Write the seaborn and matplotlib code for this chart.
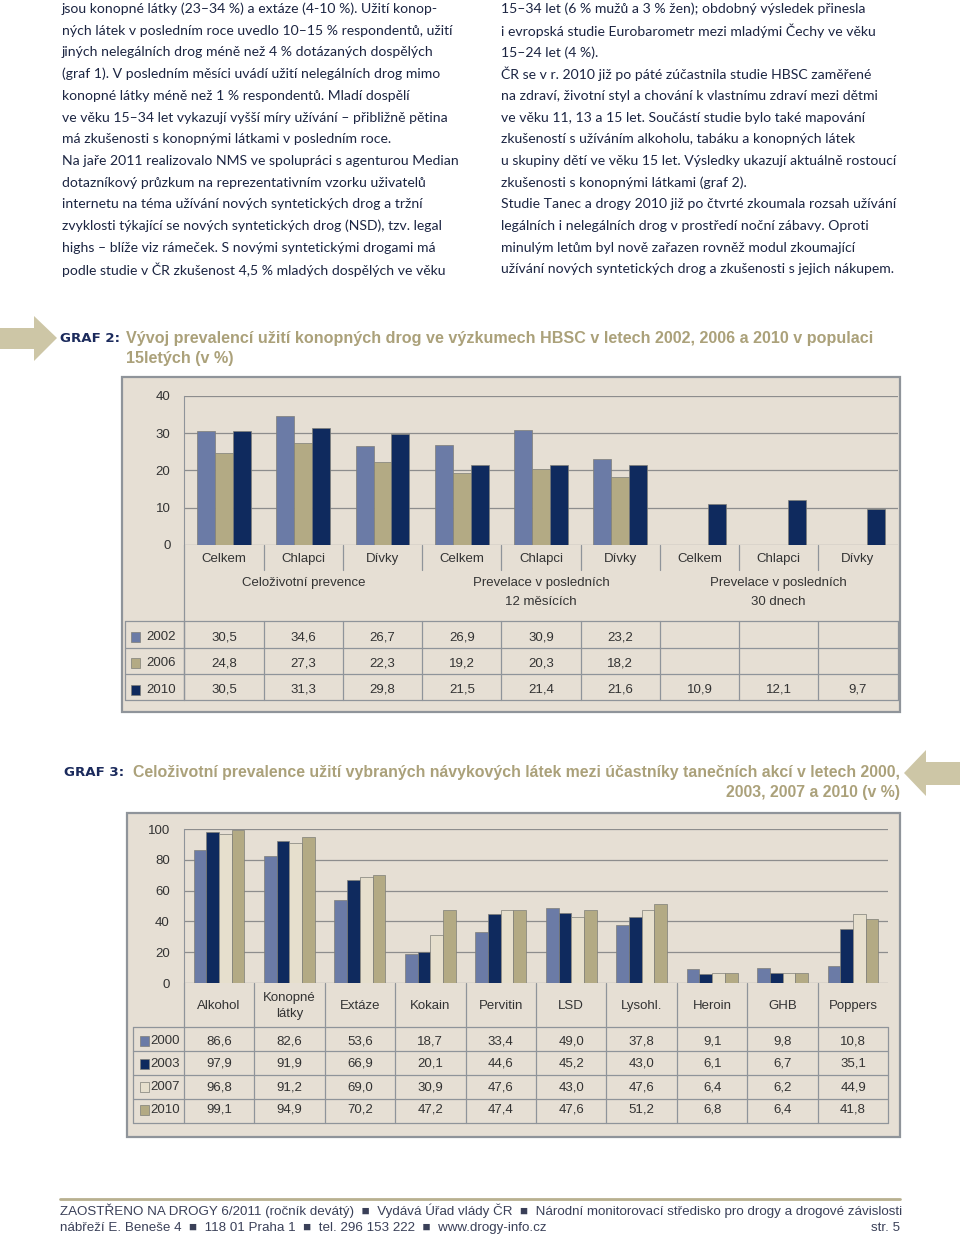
import matplotlib
matplotlib.use("Agg")
import matplotlib.pyplot as plt
import matplotlib.transforms as mtransforms
from matplotlib.patches import Rectangle, Polygon
from matplotlib.lines import Line2D
import pandas as pd
import seaborn as sns

W, H = 960, 1239

# --- GRAF 2 data (HBSC, 15letí) ---
g2_cats = ["Celkem", "Chlapci", "Dívky", "Celkem", "Chlapci", "Dívky", "Celkem", "Chlapci", "Dívky"]
g2_groups = ["Celoživotní prevence", "Prevelace v posledních\n12 měsících", "Prevelace v posledních\n30 dnech"]
g2_years = ["2002", "2006", "2010"]
g2_2002 = [30.5, 34.6, 26.7, 26.9, 30.9, 23.2, None, None, None]
g2_2006 = [24.8, 27.3, 22.3, 19.2, 20.3, 18.2, None, None, None]
g2_2010 = [30.5, 31.3, 29.8, 21.5, 21.4, 21.6, 10.9, 12.1, 9.7]
g2_colors = ["#6b7ba6", "#b3aa84", "#0f2a5e"]

# --- GRAF 3 data (Tanec a drogy) ---
g3_cats = ["Alkohol", "Konopné\nlátky", "Extáze", "Kokain", "Pervitin", "LSD", "Lysohl.", "Heroin", "GHB", "Poppers"]
g3_years = ["2000", "2003", "2007", "2010"]
g3_2000 = [86.6, 82.6, 53.6, 18.7, 33.4, 49.0, 37.8, 9.1, 9.8, 10.8]
g3_2003 = [97.9, 91.9, 66.9, 20.1, 44.6, 45.2, 43.0, 6.1, 6.7, 35.1]
g3_2007 = [96.8, 91.2, 69.0, 30.9, 47.6, 43.0, 47.6, 6.4, 6.2, 44.9]
g3_2010 = [99.1, 94.9, 70.2, 47.2, 47.4, 47.6, 51.2, 6.8, 6.4, 41.8]
g3_colors = ["#6b7ba6", "#0f2a5e", "#e6dfcd", "#b3aa84"]

left_lines = [
    "jsou konopné látky (23–34 %) a extáze (4-10 %). Užití konop-",
    "ných látek v posledním roce uvedlo 10–15 % respondentů, užití",
    "jiných nelegálních drog méně než 4 % dotázaných dospělých",
    "(graf 1). V posledním měsíci uvádí užití nelegálních drog mimo",
    "konopné látky méně než 1 % respondentů. Mladí dospělí",
    "ve věku 15–34 let vykazují vyšší míry užívání – přibližně pětina",
    "má zkušenosti s konopnými látkami v posledním roce.",
    "Na jaře 2011 realizovalo NMS ve spolupráci s agenturou Median",
    "dotazníkový průzkum na reprezentativním vzorku uživatelů",
    "internetu na téma užívání nových syntetických drog a tržní",
    "zvyklosti týkající se nových syntetických drog (NSD), tzv. legal",
    "highs – blíže viz rámeček. S novými syntetickými drogami má",
    "podle studie v ČR zkušenost 4,5 % mladých dospělých ve věku",
]
right_lines = [
    "15–34 let (6 % mužů a 3 % žen); obdobný výsledek přinesla",
    "i evropská studie Eurobarometr mezi mladými Čechy ve věku",
    "15–24 let (4 %).",
    "ČR se v r. 2010 již po páté zúčastnila studie HBSC zaměřené",
    "na zdraví, životní styl a chování k vlastnímu zdraví mezi dětmi",
    "ve věku 11, 13 a 15 let. Součástí studie bylo také mapování",
    "zkušeností s užíváním alkoholu, tabáku a konopných látek",
    "u skupiny dětí ve věku 15 let. Výsledky ukazují aktuálně rostoucí",
    "zkušenosti s konopnými látkami (graf 2).",
    "Studie Tanec a drogy 2010 již po čtvrté zkoumala rozsah užívání",
    "legálních i nelegálních drog v prostředí noční zábavy. Oproti",
    "minulým letům byl nově zařazen rovněž modul zkoumající",
    "užívání nových syntetických drog a zkušenosti s jejich nákupem.",
]

sns.set_style("white")
plt.rcParams["font.family"] = ["Liberation Sans", "DejaVu Sans"]

TXT = "#1c2542"
KHAKI = "#aba17a"
NAVY = "#1b2a5c"
PANEL = "#e6dfd4"
GRID = "#8d8d8d"
LINE = "#8f949a"

fig = plt.figure(figsize=(W / 100, H / 100), dpi=100)
fig.patch.set_facecolor("white")


def fx(x):
    return x / W


def fy(y):
    return 1 - y / H


def hline(x0, x1, y, color=LINE, lw=0.9):
    fig.add_artist(Line2D([fx(x0), fx(x1)], [fy(y), fy(y)], color=color, lw=lw))


def vline(x, y0, y1, color=LINE, lw=0.9):
    fig.add_artist(Line2D([fx(x), fx(x)], [fy(y0), fy(y1)], color=color, lw=lw))


def fmt(v):
    return f"{v:.1f}".replace(".", ",")


# body text
for i, t in enumerate(left_lines):
    fig.text(fx(62), fy(9 + i * 21.7), t, fontsize=10.1, family="Lato", color=TXT, va="center")
for i, t in enumerate(right_lines):
    fig.text(fx(501), fy(9 + i * 21.7), t, fontsize=10.1, family="Lato", color=TXT, va="center")

# arrows
fig.add_artist(Polygon([(fx(0), fy(328)), (fx(34), fy(328)), (fx(34), fy(316)), (fx(57), fy(338)),
                        (fx(34), fy(361)), (fx(34), fy(349)), (fx(0), fy(349))],
                       closed=True, facecolor="#cdc6a6", edgecolor="none"))
fig.add_artist(Polygon([(fx(904), fy(773)), (fx(926), fy(750)), (fx(926), fy(762)), (fx(960), fy(762)),
                        (fx(960), fy(785)), (fx(926), fy(785)), (fx(926), fy(796))],
                       closed=True, facecolor="#cdc6a6", edgecolor="none"))

TITLE = dict(family="Liberation Sans", weight="bold", color=KHAKI, va="center")
LABEL = dict(fontsize=9.6, family="DejaVu Sans", weight="heavy", color=NAVY, va="center")

# ================= GRAF 2 =================
fig.text(fx(60), fy(338), "GRAF 2:", **LABEL)
fig.text(fx(126), fy(338), "Vývoj prevalencí užití konopných drog ve výzkumech HBSC v letech 2002, 2006 a 2010 v populaci",
         fontsize=11.6, **TITLE)
fig.text(fx(126), fy(359), "15letých (v %)", fontsize=11.6, **TITLE)

fig.add_artist(Rectangle((fx(122), fy(712)), fx(900 - 122), (712 - 377) / H,
                         facecolor=PANEL, edgecolor=LINE, lw=1.6, zorder=0))

g2_slots = [f"{k}" for k in range(len(g2_cats))]
rows = []
for year, vals in zip(g2_years, [g2_2002, g2_2006, g2_2010]):
    for s, v in zip(g2_slots, vals):
        if v is not None:
            rows.append({"slot": s, "rok": year, "hodnota": v})
df2 = pd.DataFrame(rows)

L2, R2, T2, B2 = 184.4, 897.6, 396, 545
ax2 = fig.add_axes([fx(L2), fy(B2), fx(R2 - L2), (B2 - T2) / H])
ax2.set_facecolor("none")
sns.barplot(data=df2, x="slot", y="hodnota", hue="rok", order=g2_slots, hue_order=g2_years,
            palette=g2_colors, saturation=1, width=0.68, errorbar=None, legend=False,
            edgecolor="#7e7e78", linewidth=0.5, ax=ax2, zorder=3)
ax2.set_xlim(-0.5, len(g2_cats) - 0.5)
ax2.set_ylim(0, 40)
ax2.set_yticks([0, 10, 20, 30, 40])
ax2.yaxis.grid(True, color=GRID, lw=0.9)
ax2.set_axisbelow(True)
ax2.set_xticks([])
ax2.set_xlabel("")
ax2.set_ylabel("")
for sp in ["top", "right", "bottom"]:
    ax2.spines[sp].set_visible(False)
ax2.spines["left"].set_color(LINE)
ax2.tick_params(axis="y", length=6, color=GRID, labelsize=9.5, labelcolor="#333333", pad=4)

tr2 = mtransforms.blended_transform_factory(ax2.transData, fig.transFigure)
for i, c in enumerate(g2_cats):
    ax2.text(i, fy(559), c, transform=tr2, ha="center", va="center", fontsize=9.5, color="#333333")
    if i < len(g2_cats) - 1:
        fig.add_artist(Line2D([i + 0.5, i + 0.5], [fy(545), fy(570)], transform=tr2, color=LINE, lw=0.9))
for g, lab in enumerate(g2_groups):
    ax2.text(3 * g + 1, fy(577), lab, transform=tr2, ha="center", va="top", fontsize=9.5,
             color="#333333", linespacing=1.75)
vline(L2, B2, 700)

# table
for y in [621, 648, 674, 700]:
    hline(125, R2, y)
vline(125, 621, 700)
for i in range(len(g2_cats) + 1):
    fig.add_artist(Line2D([i - 0.5, i - 0.5], [fy(621), fy(700)], transform=tr2, color=LINE, lw=0.9))
row_y2 = [637, 663, 690]
for year, col, vals, y in zip(g2_years, g2_colors, [g2_2002, g2_2006, g2_2010], row_y2):
    fig.add_artist(Rectangle((fx(131), fy(y + 5)), fx(9), 10 / H, facecolor=col,
                             edgecolor="#7e7e78", lw=0.5))
    fig.text(fx(146), fy(y), year, fontsize=9.5, color="#333333", va="center")
    for i, v in enumerate(vals):
        if v is not None:
            ax2.text(i, fy(y), fmt(v), transform=tr2, ha="center", va="center", fontsize=9.5, color="#333333")

# ================= GRAF 3 =================
fig.text(fx(64), fy(772), "GRAF 3:", **LABEL)
fig.text(fx(900), fy(772),
         "Celoživotní prevalence užití vybraných návykových látek mezi účastníky tanečních akcí v letech 2000,",
         ha="right", fontsize=11.45, **TITLE)
fig.text(fx(900), fy(793), "2003, 2007 a 2010 (v %)", ha="right", fontsize=11.45, **TITLE)

fig.add_artist(Rectangle((fx(127), fy(1137)), fx(900 - 127), (1137 - 813) / H,
                         facecolor=PANEL, edgecolor=LINE, lw=1.6, zorder=0))

rows = []
for year, vals in zip(g3_years, [g3_2000, g3_2003, g3_2007, g3_2010]):
    for c, v in zip(g3_cats, vals):
        rows.append({"latka": c, "rok": year, "hodnota": v})
df3 = pd.DataFrame(rows)

L3, R3, T3, B3 = 183.7, 888.3, 829, 983
ax3 = fig.add_axes([fx(L3), fy(B3), fx(R3 - L3), (B3 - T3) / H])
ax3.set_facecolor("none")
sns.barplot(data=df3, x="latka", y="hodnota", hue="rok", order=g3_cats, hue_order=g3_years,
            palette=g3_colors, saturation=1, width=0.72, errorbar=None, legend=False,
            edgecolor="#7e7e78", linewidth=0.5, ax=ax3, zorder=3)
ax3.set_xlim(-0.5, len(g3_cats) - 0.5)
ax3.set_ylim(0, 100)
ax3.set_yticks([0, 20, 40, 60, 80, 100])
ax3.yaxis.grid(True, color=GRID, lw=0.9)
ax3.set_axisbelow(True)
ax3.set_xticks([])
ax3.set_xlabel("")
ax3.set_ylabel("")
for sp in ["top", "right", "bottom"]:
    ax3.spines[sp].set_visible(False)
ax3.spines["left"].set_color(LINE)
ax3.tick_params(axis="y", length=6, color=GRID, labelsize=9.5, labelcolor="#333333", pad=4)

tr3 = mtransforms.blended_transform_factory(ax3.transData, fig.transFigure)
for i, c in enumerate(g3_cats):
    ax3.text(i, fy(1006), c, transform=tr3, ha="center", va="center", fontsize=9.5, color="#333333",
             linespacing=1.5)
for i in range(len(g3_cats)):
    fig.add_artist(Line2D([i + 0.5, i + 0.5], [fy(983 if i < len(g3_cats) - 1 else 1027), fy(1123)],
                          transform=tr3, color=LINE, lw=0.9))
vline(L3, B3, 1123)
for y in [1027, 1051, 1075, 1099, 1123]:
    hline(133, R3, y)
vline(133, 1027, 1123)
row_y3 = [1041, 1064, 1087, 1110]
for year, col, vals, y in zip(g3_years, g3_colors, [g3_2000, g3_2003, g3_2007, g3_2010], row_y3):
    fig.add_artist(Rectangle((fx(140), fy(y + 5)), fx(9), 10 / H, facecolor=col,
                             edgecolor="#7e7e78", lw=0.5))
    fig.text(fx(150), fy(y), year, fontsize=9.5, color="#333333", va="center")
    for i, v in enumerate(vals):
        ax3.text(i, fy(y), fmt(v), transform=tr3, ha="center", va="center", fontsize=9.5, color="#333333")

# footer
hline(60, 900, 1199, color="#b8b08f", lw=2)
fig.text(fx(60), fy(1211),
         "ZAOSTŘENO NA DROGY 6/2011 (ročník devátý)  ■  Vydává Úřad vlády ČR  ■  "
         "Národní monitorovací středisko pro drogy a drogové závislosti",
         fontsize=9.6, color="#3a4058", va="center")
fig.text(fx(60), fy(1228), "nábřeží E. Beneše 4  ■  118 01 Praha 1  ■  tel. 296 153 222  ■  www.drogy-info.cz",
         fontsize=9.6, color="#3a4058", va="center")
fig.text(fx(900), fy(1228), "str. 5", fontsize=9.6, color="#3a4058", va="center", ha="right")

fig.savefig("out.png", dpi=100, facecolor="white")
